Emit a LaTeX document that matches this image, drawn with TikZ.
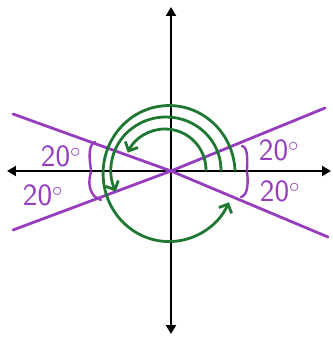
\documentclass[tikz,border=0pt]{standalone}
\usepackage{xcolor}
\usetikzlibrary{arrows.meta}
\definecolor{penpurple}{RGB}{150,60,190}
\definecolor{pengreen}{RGB}{30,120,50}

\begin{document}
\begin{tikzpicture}[x=1pt,y=1pt,
    axis/.style={line width=2.5pt, black, {Triangle[length=9pt,width=10pt]}-{Triangle[length=9pt,width=10pt]}},
    ray/.style={penpurple, line width=2.8pt, line cap=round},
    brace/.style={penpurple, line width=2.4pt, line cap=round},
    turn/.style={pengreen, line width=2.8pt, line cap=round, -{Straight Barb[length=7pt,width=14pt]}},
    angle/.style={penpurple, font=\sffamily\fontsize{31}{31}\selectfont, inner sep=0pt}]
      \useasboundingbox (-171,-166) rectangle (161,171);

      % Axes
      \coordinate (O) at (0,0);
      \coordinate (xl) at (-164,0);
      \coordinate (xr) at (160,0);
      \coordinate (yt) at (0,164);
      \coordinate (yb) at (0,-163);
      \draw[axis] (xl) -- (xr);
      \draw[axis] (yb) -- (yt);

      % Lines through the origin
      \coordinate (a1) at (-158,57);
      \coordinate (a2) at (157,-66);
      \coordinate (b1) at (-158,-59);
      \coordinate (b2) at (154,63);
      \draw[ray] (a1) -- (O) -- (a2);
      \draw[ray] (b1) -- (O) -- (b2);

      % Braces
      \draw[brace] (71,25) .. controls (78,24) and (76,6) .. (76,1);
      \draw[brace] (76,-1) .. controls (77,-8) and (78,-24) .. (70,-26);
      \draw[brace] (-76,29) .. controls (-84,26) and (-81,8) .. (-80,1);
      \draw[brace] (-80,-1) .. controls (-83,-10) and (-83,-25) .. (-70,-29);

      \node[angle] (ul) at (-110,15) {20$^\circ$};
      \node[angle] (ll) at (-128,-24) {20$^\circ$};
      \node[angle] (ur) at (108,21) {20$^\circ$};
      \node[angle] (lr) at (109,-20) {20$^\circ$};

      % Rotations
      \draw[turn] (35,1) arc[start angle=0,end angle=155,x radius=41,y radius=41];
      \draw[turn] (50,1) arc[start angle=0,end angle=204,x radius=55,y radius=53];
      \draw[turn] (64,1) arc[start angle=3,end angle=335,x radius=66,y radius=68];
\end{tikzpicture}
\end{document}
